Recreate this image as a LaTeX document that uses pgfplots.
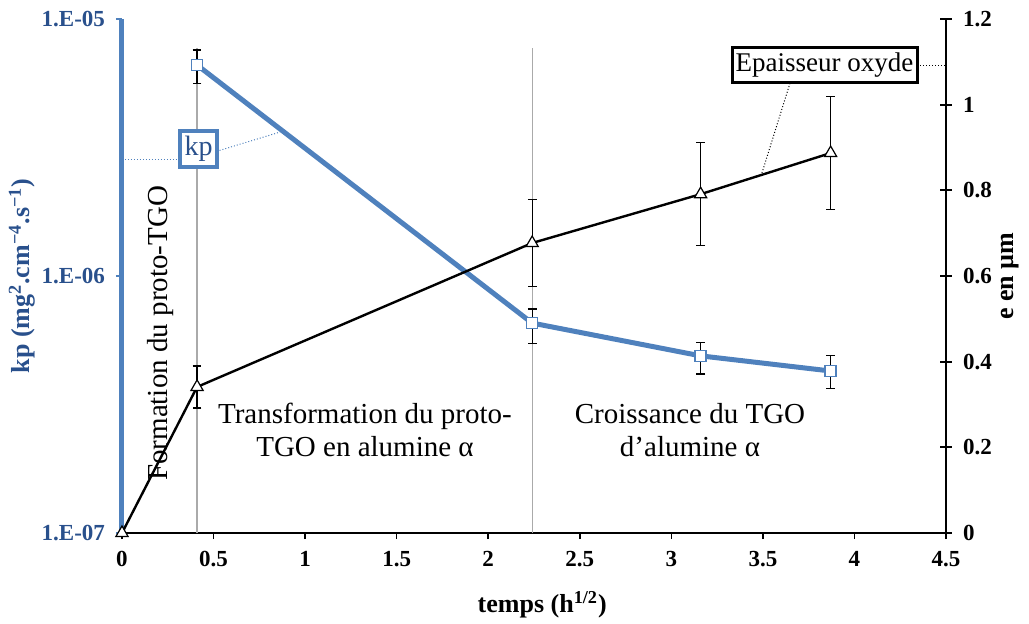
\documentclass[border=0pt]{standalone}
\usepackage{fontspec}
\setmainfont{Liberation Serif}
\usepackage{pgfplots}
\pgfplotsset{compat=1.18}
\definecolor{kpblue}{RGB}{79,129,189}
\definecolor{kpdark}{RGB}{41,80,140}
\definecolor{vline}{RGB}{170,170,170}
\newcommand{\tickfont}{\bfseries\fontsize{11.5}{13}\selectfont}
\newcommand{\notefont}{\fontsize{14.5}{16.5}\selectfont}

\begin{document}
\begin{tikzpicture}
\useasboundingbox (-61pt,-45.5pt) rectangle (453.5pt,266.5pt);

% left axis: kp, log scale
\begin{axis}[
    width=412pt, height=257pt, scale only axis,
    xmin=0, xmax=4.5,
    ymode=log, ymin=1e-7, ymax=1e-5,
    axis x line*=bottom, axis y line*=left,
    xtick={0,0.5,1,1.5,2,2.5,3,3.5,4,4.5},
    xticklabels={0,0.5,1,1.5,2,2.5,3,3.5,4,4.5},
    ytick={1e-7,1e-6,1e-5},
    yticklabels={1.E-07,1.E-06,1.E-05},
    yminorticks=false,
    tick align=outside,
    major tick length=3pt,
    x axis line style={black, line width=1pt, -},
    y axis line style={kpblue, line width=2.5pt, -},
    xtick style={black, line width=0.8pt},
    ytick style={kpblue, line width=1pt},
    xticklabel style={font=\tickfont, yshift=-2.5pt},
    yticklabel style={font=\tickfont, text=kpdark, xshift=-2pt},
    clip=false,
]
% phase boundaries
\draw[vline, line width=0.6pt] (axis cs:0.41,1e-7) -- (axis cs:0.41,7.7e-6);
\draw[vline, line width=0.6pt] (axis cs:2.24,1e-7) -- (axis cs:2.24,7.7e-6);

\addplot[kpblue, line width=2.5pt, mark=square*, mark size=2.75pt,
    mark options={fill=white, draw=kpblue, line width=0.7pt},
    error bars/.cd, y dir=both, y explicit,
    error bar style={black, line width=0.6pt},
    error mark options={rotate=90, black, line width=0.6pt, mark size=2.2pt}]
coordinates {
    (0.41,6.62e-6) += (0,0.95e-6) -= (0,0.99e-6)
    (2.24,6.56e-7) += (0,0.88e-7) -= (0,1.08e-7)
    (3.16,4.89e-7) += (0,0.64e-7) -= (0,0.73e-7)
    (3.87,4.27e-7) += (0,0.62e-7) -= (0,0.61e-7)
};

\node[rotate=90, font=\bfseries\fontsize{13}{15}\selectfont, text=kpdark]
    at (axis description cs:-0.1214,0.5) {kp (mg\textsuperscript{2}.cm\textsuperscript{−4}.s\textsuperscript{−1})};
\node[font=\bfseries\fontsize{13}{15}\selectfont]
    at (axis description cs:0.51,-0.14) {temps (h\textsuperscript{1/2})};
\end{axis}

% right axis: oxide thickness
\begin{axis}[
    width=412pt, height=257pt, scale only axis,
    xmin=0, xmax=4.5, ymin=0, ymax=1.2,
    axis x line=none, axis y line*=right,
    ytick={0,0.2,0.4,0.6,0.8,1,1.2},
    yticklabels={0,0.2,0.4,0.6,0.8,1,1.2},
    tick align=center,
    major tick length=6pt,
    y axis line style={black, line width=1pt, -},
    ytick style={black, line width=1pt},
    yticklabel style={font=\tickfont, xshift=2pt},
    clip=false,
]
\addplot[black, line width=1.2pt, mark=triangle*, mark size=3.5pt,
    mark options={fill=white, draw=black, line width=0.6pt},
    error bars/.cd, y dir=both, y explicit,
    error bar style={black, line width=0.6pt},
    error mark options={rotate=90, black, line width=0.6pt, mark size=2.2pt}]
coordinates {
    (0,0)
    (0.41,0.341) +- (0,0.049)
    (2.24,0.677) +- (0,0.102)
    (3.16,0.791) +- (0,0.120)
    (3.87,0.887) +- (0,0.132)
};

% phase annotations
\node[rotate=90, font=\notefont] at (axis cs:0.213,0.466) {Formation du proto-TGO};
\node[font=\notefont, align=center] at (axis cs:1.327,0.2405) {Transformation du proto-\\TGO en alumine α};
\node[font=\notefont, align=center] at (axis cs:3.102,0.2405) {Croissance du TGO\\d’alumine α};

% callouts
\draw[kpblue, densely dotted, line width=0.5pt] (axis cs:0,0.873) -- (axis cs:0.35,0.873);
\draw[kpblue, densely dotted, line width=0.5pt] (axis cs:0.47,0.885) -- (axis cs:0.863,0.936);
\node[draw=kpblue, line width=1.8pt, fill=white, text=kpdark, inner sep=0pt,
    minimum width=18.5pt, minimum height=18pt, font=\fontsize{14}{16}\selectfont]
    at (axis cs:0.418,0.8966) {kp};

\draw[black, densely dotted, line width=0.5pt] (axis cs:3.9,1.0915) -- (axis cs:4.5,1.0915);
\draw[black, densely dotted, line width=0.5pt] (axis cs:3.648,1.05) -- (axis cs:3.495,0.8405);
\node[draw=black, line width=1.5pt, fill=white, inner sep=0pt,
    minimum width=92.5pt, minimum height=17.5pt, font=\fontsize{13.5}{15}\selectfont]
    at (axis cs:3.837,1.0915) {Epaisseur oxyde};

\node[rotate=90, font=\bfseries\fontsize{13}{15}\selectfont]
    at (axis description cs:1.0777,0.5) {e en µm};
\end{axis}
\end{tikzpicture}
\end{document}
